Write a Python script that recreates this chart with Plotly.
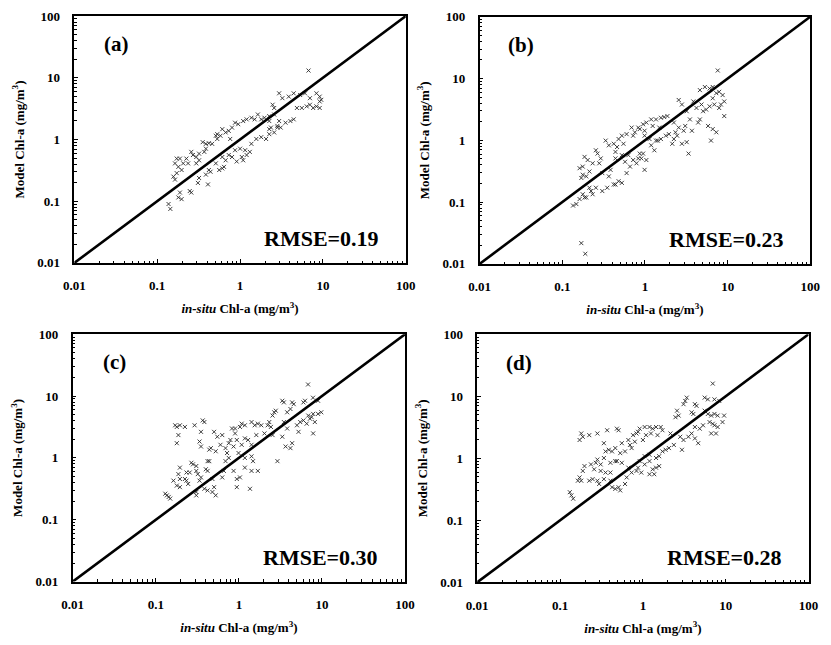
import plotly.graph_objects as go

# ---------------- data ----------------
diag = [0.01, 100]
tick_vals = [0.01, 0.1, 1, 10, 100]
tick_text = ["0.01", "0.1", "1", "10", "100"]
panel_labels = ["(a)", "(b)", "(c)", "(d)"]
rmse_labels = ["RMSE=0.19", "RMSE=0.23", "RMSE=0.30", "RMSE=0.28"]

insitu_a = [6.7, 2.96, 3.24, 3.87, 4.44, 5.31, 6.08, 6.97, 8.35, 9.14, 9.14,
            4.05, 4.44, 4.85, 5.56, 6.37, 6.97, 7.62, 8.35, 9.14, 9.55,
            2.82, 3.09, 2.96, 3.54, 2.36, 2.25, 2.58, 2.47, 2.58,
            0.87, 0.95, 1.09, 1.20, 1.37, 1.50, 1.64, 1.80, 1.97, 2.25,
            0.53, 0.58, 0.67, 0.73, 0.80, 0.61,
            0.354, 0.387, 0.42, 0.46, 0.51, 0.53,
            0.258, 0.27, 0.296, 0.32, 0.37, 0.387,
            0.172, 0.188, 0.164, 0.18, 0.197, 0.206, 0.225, 0.236, 0.296, 0.32,
            0.157, 0.164, 0.172,
            0.76, 0.87, 1.0, 1.15, 1.31, 1.37, 1.57, 1.80, 2.06, 2.25,
            0.61, 0.67, 0.73, 0.80, 0.91, 0.61, 0.64, 0.56, 0.51, 0.44, 0.42,
            0.387, 0.32, 0.31, 0.41, 0.247, 0.258, 0.188, 0.18, 0.137, 0.144, 0.197,
            1.09, 1.20, 1.05, 2.25, 2.58, 2.82]
model_a = [13.1, 5.6, 4.67, 4.95, 5.6, 5.26, 5.6, 4.67, 5.6, 4.95, 4.13,
           1.99, 2.12, 3.24, 3.24, 3.44, 3.66, 3.24, 3.44, 3.24, 4.39,
           1.66, 1.56, 1.99, 1.87, 1.56, 1.99, 2.54, 3.66, 3.24,
           1.87, 1.77, 1.99, 2.12, 2.25, 2.12, 2.54, 2.12, 2.25, 2.39,
           1.22, 1.15, 1.30, 1.38, 1.56, 1.47,
           0.905, 0.85, 0.87, 0.85, 1.15, 1.02,
           0.63, 0.56, 0.52, 0.59, 0.63, 0.71,
           0.49, 0.49, 0.41, 0.36, 0.32, 0.41, 0.49, 0.41, 0.41, 0.46,
           0.25, 0.224, 0.285,
           1.02, 0.67, 0.71, 0.67, 0.63, 0.85, 1.02, 1.09, 1.02, 1.22,
           0.52, 0.46, 0.56, 0.52, 0.44, 0.34, 0.36, 0.32, 0.41, 0.30, 0.32,
           0.27, 0.238, 0.198, 0.187, 0.146, 0.138, 0.138, 0.115, 0.09, 0.075, 0.108,
           0.46, 0.56, 0.52, 1.47, 1.30, 1.56]

insitu_b = [7.6, 4.62, 5.3, 6.05, 6.6, 7.3, 7.9, 8.7, 9.1, 6.6,
            2.56, 2.8, 3.85, 4.2, 4.83, 5.05, 5.5, 6.05, 6.9, 7.9, 8.3,
            3.2, 3.5, 3.07, 3.7, 4.4, 4.62, 5.8, 6.6, 7.3, 6.3, 9.1,
            3.37, 2.8, 3.2, 2.45, 2.14,
            2.24, 2.56, 2.34, 2.94,
            0.83, 0.95, 1.04, 1.19, 1.36, 1.56, 1.71, 1.87, 1.49, 1.24,
            0.526, 0.60, 0.69, 0.755, 0.865, 0.99, 0.72,
            0.335, 0.366, 0.42, 0.46, 0.48, 0.55, 0.44,
            0.255, 0.267, 0.292, 0.203, 0.233, 0.186, 0.177, 0.162, 0.213,
            0.17, 0.195, 0.177,
            0.99, 1.135, 1.36, 1.56, 1.79, 1.95, 2.24, 1.19, 1.30, 1.43,
            0.526, 0.63, 0.72, 0.83, 0.905, 0.95, 0.865, 0.79, 0.99, 1.04,
            0.575, 0.66, 0.60, 0.44, 0.44, 0.42, 0.48, 0.526, 0.366, 0.384,
            0.305, 0.28, 0.35, 0.305, 0.255,
            0.223, 0.186, 0.195, 0.162, 0.148, 0.135, 0.177, 0.233, 0.213,
            0.17, 0.19]
model_b = [13.5, 6.5, 7.3, 6.9, 7.3, 5.8, 6.1, 5.4, 4.26, 4.8,
           4.5, 3.8, 4.26, 3.34, 3.8, 2.96, 3.15, 3.55, 3.8, 3.34, 3.8,
           2.96, 2.18, 1.71, 1.43, 1.94, 2.18, 1.71, 1.52, 1.35, 0.99, 2.47,
           0.61, 0.88, 0.935, 1.19, 0.88,
           1.94, 1.61, 1.35, 1.43,
           1.61, 1.82, 1.94, 2.18, 2.18, 2.32, 2.38, 2.47, 1.61, 1.71,
           1.19, 1.26, 1.61, 1.35, 1.52, 1.43, 1.19,
           0.99, 0.83, 0.88, 0.78, 1.05, 0.88, 0.65,
           0.69, 0.61, 0.51, 0.48, 0.425, 0.54, 0.376, 0.354, 0.313,
           0.246, 0.261, 0.278,
           1.19, 1.05, 0.99, 1.05, 1.19, 1.26, 1.05, 0.83, 0.69, 0.99,
           0.575, 0.575, 0.48, 0.51, 0.51, 0.61, 0.61, 0.425, 0.333, 0.48,
           0.45, 0.376, 0.295, 0.51, 0.193, 0.193, 0.218, 0.205, 0.261, 0.333,
           0.295, 0.425, 0.171, 0.151, 0.171,
           0.151, 0.119, 0.119, 0.112, 0.093, 0.088, 0.134, 0.134, 0.171,
           0.0217, 0.0146]

insitu_c = [6.8, 3.33, 3.48, 4.37, 4.57, 5.98, 6.25, 7.8, 8.97,
            2.66, 2.78, 2.54, 3.81, 4.17,
            6.84, 7.5, 7.16, 7.83, 8.97, 9.8, 8.2, 6.55, 5.98, 5.47,
            5.0, 5.22, 7.83, 4.37, 4.17, 3.65, 3.81, 3.48, 3.33,
            2.91, 1.69, 1.36, 0.944, 0.63, 0.69,
            2.32, 2.22, 2.43, 2.54, 1.86, 1.69, 1.55, 1.62, 2.03, 1.42,
            1.18, 1.03, 0.90, 1.08, 0.826, 0.90, 1.18, 1.29, 1.42, 1.08,
            0.944, 0.79, 0.863,
            0.367, 0.384, 0.293, 0.35,
            0.503, 0.55, 0.63, 0.60, 0.69, 0.755, 0.526, 0.46, 0.44, 0.35,
            0.336, 0.72, 0.755, 0.99, 1.18, 1.42, 1.48,
            0.171, 0.179, 0.195, 0.224, 0.187, 0.179,
            0.268, 0.28, 0.307, 0.42, 0.44, 0.40, 0.42, 0.307, 0.32, 0.256,
            0.234, 0.195, 0.187, 0.195, 0.163, 0.179, 0.224, 0.234, 0.245, 0.195,
            0.336, 0.35, 0.48, 0.503, 0.48, 0.526, 0.42, 0.384, 0.307, 0.136,
            0.143, 0.149, 0.13, 0.307,
            0.863, 0.944, 1.03, 1.18, 1.42, 0.66]
model_c = [15.4, 8.4, 7.9, 7.9, 7.4, 7.9, 8.4, 9.4, 8.4,
           5.47, 5.8, 4.84, 5.47, 6.18,
           4.84, 4.56, 4.3, 5.15, 5.15, 5.47, 3.8, 3.58, 4.04, 3.8,
           3.37, 2.64, 2.49, 1.73, 1.44, 1.53, 2.99, 3.8, 2.2,
           0.887, 0.617, 0.317, 0.337, 0.484, 0.887,
           3.8, 3.37, 3.17, 2.34, 3.37, 3.58, 3.37, 2.34, 2.49, 3.8,
           3.37, 3.17, 2.99, 3.58, 2.99, 2.49, 2.07, 1.95, 1.63, 1.63,
           1.95, 1.95, 1.53,
           4.04, 3.8, 3.37, 2.64,
           2.64, 2.2, 2.34, 1.63, 1.44, 1.73, 1.28, 1.44, 1.36, 1.53,
           1.84, 1.2, 1.0, 1.2, 1.0, 1.06, 0.887,
           3.37, 3.17, 3.37, 3.17, 2.34, 1.73,
           0.835, 0.787, 0.74, 0.887, 0.887, 0.656, 0.617, 0.617, 0.547, 0.581,
           0.581, 0.697, 0.547, 0.456, 0.429, 0.357, 0.456, 0.429, 0.38, 0.337,
           0.429, 0.484, 0.456, 0.337, 0.281, 0.248, 0.298, 0.317, 0.281, 0.248,
           0.234, 0.22, 0.264, 0.248,
           0.617, 0.456, 0.484, 0.697, 0.617, 0.617]

insitu_d = [6.97, 3.24, 3.38, 3.09, 4.24, 4.44, 5.56, 6.08, 7.3, 8.35,
            2.58, 2.7, 2.47, 3.87, 4.06, 5.56, 6.08, 6.67, 7.3, 7.98,
            9.55, 6.37, 6.97, 7.3, 7.98, 9.14, 5.32, 4.85, 4.24, 3.87,
            4.24, 4.65, 3.54, 3.09, 2.82, 2.36, 2.96, 2.15, 6.67, 7.62,
            0.914, 1.05, 1.2, 1.31, 1.44, 1.64, 1.72, 1.09, 1.25, 1.5, 0.836, 0.76, 0.873,
            0.485, 0.508, 0.37, 0.282, 0.18, 0.188, 0.172, 0.225,
            0.338, 0.387, 0.424, 0.464, 0.532, 0.608, 0.556, 0.667, 0.697, 0.798,
            1.0, 0.73, 0.464, 0.485, 0.405, 0.338, 0.354, 0.282, 0.27, 0.258,
            0.309, 0.309, 0.236, 0.197, 0.188, 0.172, 0.164, 0.18, 0.225, 0.247,
            0.282, 0.296, 0.338, 0.131, 0.137, 0.144,
            0.405, 0.424, 0.464, 0.508, 0.532, 0.608, 0.637, 0.73, 0.836, 0.955,
            1.2, 1.37, 1.44, 1.2, 1.05, 1.2, 1.44, 1.57, 1.72, 1.88,
            2.06, 0.914, 0.873, 1.05, 1.31, 1.57, 0.667, 0.556, 0.405, 0.354]
model_d = [16.0, 8.4, 9.5, 7.45, 7.45, 7.0, 9.5, 8.9, 8.9, 8.4,
           5.85, 4.88, 4.59, 5.5, 5.18, 5.85, 5.18, 4.88, 5.18, 4.88,
           4.88, 3.83, 3.6, 3.4, 3.19, 3.83, 3.4, 3.0, 3.19, 2.51,
           2.09, 1.75, 2.22, 1.97, 2.22, 1.64, 1.37, 2.51, 2.51, 2.51,
           3.0, 3.19, 3.19, 3.0, 3.19, 3.19, 2.83, 2.36, 2.51, 2.36, 2.51, 2.36, 2.67,
           3.0, 2.83, 2.83, 2.51, 2.51, 2.22, 1.97, 2.36,
           1.75, 1.37, 1.29, 1.46, 1.21, 1.29, 1.75, 1.97, 1.64, 1.85,
           1.97, 1.46, 0.90, 0.90, 0.845, 1.01, 1.29, 0.953, 0.845, 0.664,
           0.625, 0.796, 0.796, 0.748, 0.625, 0.491, 0.435, 0.435, 0.435, 0.461,
           0.435, 0.385, 0.461, 0.284, 0.252, 0.223,
           0.435, 0.341, 0.321, 0.341, 0.303, 0.385, 0.491, 0.588, 0.625, 0.588,
           0.553, 0.553, 0.705, 0.90, 1.08, 1.14, 1.01, 1.08, 1.29, 1.37,
           1.46, 0.90, 0.705, 0.796, 0.664, 0.748, 0.705, 0.845, 0.588, 0.588]

series = [(insitu_a, model_a), (insitu_b, model_b), (insitu_c, model_c), (insitu_d, model_d)]

# ---------------- layout / style ----------------
FONT = "Liberation Serif, Times New Roman, serif"
x_domains = [[0.0782, 0.4874], [0.5785, 0.9868], [0.0762, 0.4865], [0.5756, 0.9847]]
y_domains = [[0.5938, 0.9856], [0.5922, 0.9845], [0.0879, 0.4806], [0.0868, 0.4806]]
minor_vals = [k * 10.0 ** e for e in range(-2, 2) for k in range(2, 10)]

fig = go.Figure()
layout = dict(
    width=831, height=645,
    margin=dict(l=0, r=0, t=0, b=0),
    paper_bgcolor="white", plot_bgcolor="white",
    showlegend=False,
    font=dict(family=FONT, color="black"),
    annotations=[],
)

for i, (xs, ys) in enumerate(series):
    n = "" if i == 0 else str(i + 1)
    xref, yref = "x" + n, "y" + n
    fig.add_trace(go.Scatter(
        x=xs, y=ys, mode="markers", xaxis=xref, yaxis=yref,
        marker=dict(symbol="x-thin", size=4, color="#2a2a2a",
                    line=dict(width=0.9, color="#2a2a2a")),
    ))
    fig.add_trace(go.Scatter(
        x=diag, y=diag, mode="lines", xaxis=xref, yaxis=yref,
        line=dict(color="black", width=2.6),
    ))
    common = dict(
        type="log", range=[-2, 2], showgrid=False, zeroline=False,
        showline=True, linecolor="black", linewidth=1.5, mirror=True,
        ticks="inside", ticklen=4, tickwidth=1.2, tickcolor="black",
        tickvals=tick_vals, ticktext=tick_text,
        tickfont=dict(family=FONT, size=13, color="black", weight="bold"),
        minor=dict(ticks="inside", ticklen=2.5, tickwidth=1, tickcolor="black",
                   tickvals=minor_vals, showgrid=False),
    )
    layout["xaxis" + n] = dict(
        common, domain=x_domains[i], anchor=yref, ticklabelstandoff=10,
        title=dict(text="<i>in-situ</i> Chl-a (mg/m<sup>3</sup>)", standoff=12,
                   font=dict(family=FONT, size=13, color="black", weight="bold")),
    )
    layout["yaxis" + n] = dict(
        common, domain=y_domains[i], anchor=xref, ticklabelstandoff=10,
        title=dict(text="Model Chl-a (mg/m<sup>3</sup>)", standoff=10,
                   font=dict(family=FONT, size=13, color="black", weight="bold")),
    )
    layout["annotations"].append(dict(
        text=panel_labels[i], xref=xref + " domain", yref=yref + " domain",
        x=0.126, y=0.886, xanchor="center", yanchor="middle", showarrow=False,
        font=dict(family=FONT, size=21, color="black", weight="bold"),
    ))
    layout["annotations"].append(dict(
        text=rmse_labels[i], xref=xref + " domain", yref=yref + " domain",
        x=0.925, y=0.099, xanchor="right", yanchor="middle", showarrow=False,
        font=dict(family=FONT, size=22, color="black", weight="bold"),
    ))

fig.update_layout(**layout)
fig.write_html("out.html")
